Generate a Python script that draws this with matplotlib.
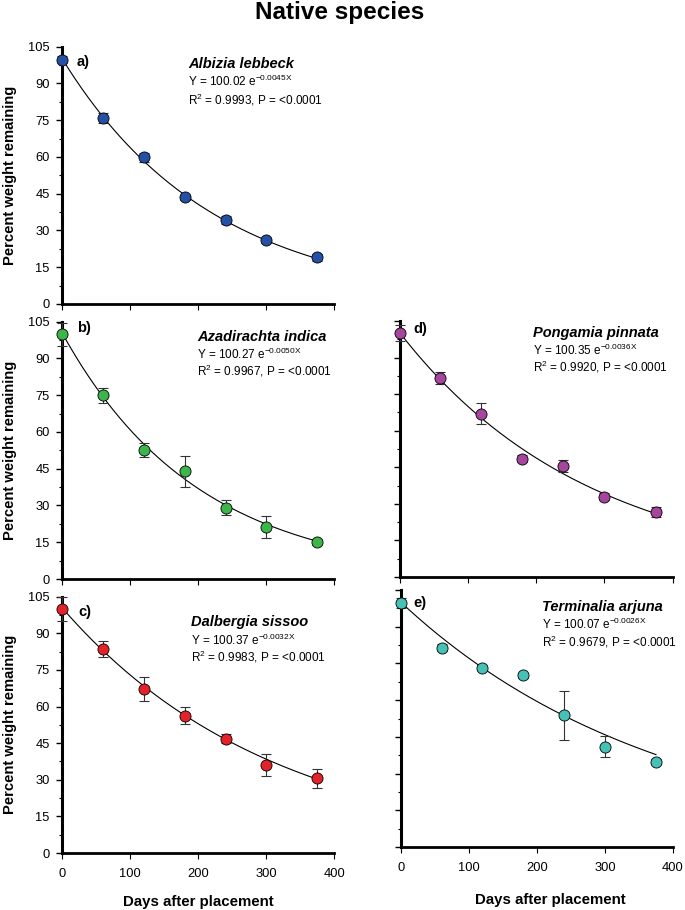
import numpy as np
import matplotlib
matplotlib.use("Agg")
import matplotlib.pyplot as plt
from matplotlib.ticker import MultipleLocator

plt.rcParams['font.family'] = ['Liberation Sans', 'DejaVu Sans']
plt.rcParams['mathtext.fontset'] = 'custom'
plt.rcParams['mathtext.rm'] = 'Liberation Sans'
plt.rcParams['mathtext.it'] = 'Liberation Sans:italic'
plt.rcParams['mathtext.bf'] = 'Liberation Sans:bold'

days = [0, 60, 120, 180, 240, 300, 375]

species = ["Albizia lebbeck", "Azadirachta indica", "Dalbergia sissoo",
           "Pongamia pinnata", "Terminalia arjuna"]
panel_letters = ["a)", "b)", "c)", "d)", "e)"]

vals_a = [99.7, 76.0, 59.8, 43.5, 34.3, 26.0, 19.0]
err_a = [1.5, 2.0, 2.0, 1.0, 1.5, 1.0, 1.3]
vals_b = [99.8, 74.9, 52.7, 43.9, 29.1, 21.2, 15.2]
err_b = [4.8, 3.0, 3.0, 6.3, 3.0, 4.5, 1.2]
vals_c = [100.0, 83.5, 67.1, 56.3, 46.9, 36.0, 30.6]
err_c = [4.8, 3.3, 5.0, 3.5, 1.9, 4.6, 4.0]
vals_d = [100.2, 81.5, 67.0, 48.5, 45.5, 33.0, 26.8]
err_d = [3.2, 2.5, 4.2, 1.4, 2.5, 1.5, 2.0]
vals_e = [99.8, 81.5, 73.3, 70.1, 53.9, 41.0, 34.8]
err_e = [2.0, 1.5, 1.0, 1.0, 10.0, 4.2, 1.0]

coef_a = [100.02, 100.27, 100.37, 100.35, 100.07]
coef_b = [-0.0045, -0.0050, -0.0032, -0.0036, -0.0026]
r2 = ["0.9993", "0.9967", "0.9983", "0.9920", "0.9679"]

colors = ["#2451a6", "#3cb54a", "#e3232a", "#a5459e", "#45c2b5"]

values = [vals_a, vals_b, vals_c, vals_d, vals_e]
errors = [err_a, err_b, err_c, err_d, err_e]

W, H = 685, 910
fig = plt.figure(figsize=(W / 100, H / 100), dpi=100)

def rect(x0, x1, yt, yb):
    return [x0 / W, 1 - yb / H, (x1 - x0) / W, (yb - yt) / H]

rects = [rect(62.3, 334.3, 46.7, 304),
         rect(62.3, 334.3, 321.7, 579),
         rect(62.3, 334.3, 596.7, 853),
         rect(399.5, 672.7, 321, 577),
         rect(400.7, 673, 590, 847)]

# text positions (axes fraction)
letter_pos = [(0.054, 0.94), (0.055, 0.975), (0.058, 0.939), (0.052, 0.967), (0.046, 0.948)]
name_pos = [(0.463, 0.933, 0.865, 0.794), (0.496, 0.94, 0.871, 0.807),
            (0.472, 0.90, 0.831, 0.766), (0.487, 0.952, 0.884, 0.819),
            (0.518, 0.933, 0.866, 0.799)]

left_panels = [0, 1, 2]
bottom_panels = [2, 4]

for i in range(5):
    ax = fig.add_axes(rects[i])
    ax.set_xlim(0, 400)
    ax.set_ylim(0, 105)
    for s in ['top', 'right']:
        ax.spines[s].set_visible(False)
    ax.spines['left'].set_linewidth(2.2)
    ax.spines['bottom'].set_linewidth(2.0)
    ax.yaxis.set_major_locator(MultipleLocator(15))
    ax.yaxis.set_minor_locator(MultipleLocator(7.5))
    ax.xaxis.set_major_locator(MultipleLocator(100))
    ax.tick_params(axis='y', which='major', direction='out', length=4, width=1.0, pad=5,
                   labelsize=9.3, labelleft=(i in left_panels))
    ax.tick_params(axis='y', which='minor', direction='out', length=2.5, width=0.8)
    ax.tick_params(axis='x', which='major', direction='out', length=4, width=0.8, pad=7,
                   labelsize=9.3, labelbottom=(i in bottom_panels))
    x = np.array(days, dtype=float)
    xs = np.linspace(0, max(days), 200)
    ax.plot(xs, coef_a[i] * np.exp(coef_b[i] * xs), color='black', lw=0.8, zorder=2)
    ax.errorbar(x, values[i], yerr=errors[i], fmt='none', ecolor='#333333',
                elinewidth=0.8, capsize=3.6, capthick=0.8, zorder=3, clip_on=False)
    ax.plot(x, values[i], 'o', ms=8, mfc=colors[i], mec='black', mew=0.6,
            zorder=4, clip_on=False)
    if i in left_panels:
        ax.set_ylabel("Percent weight remaining", fontsize=10.6, fontweight='bold', labelpad=8)
    lx, ly = letter_pos[i]
    ax.text(lx, ly, panel_letters[i], transform=ax.transAxes, fontsize=10.5,
            fontweight='bold', ha='left', va='center')
    nx, ny, ey, ry = name_pos[i]
    ax.text(nx, ny, species[i], transform=ax.transAxes, fontsize=10.5,
            fontweight='bold', style='italic', ha='left', va='center')
    ax.text(nx, ey, r"Y = %.2f e$^{\mathrm{%.4fX}}$" % (coef_a[i], coef_b[i]),
            transform=ax.transAxes, fontsize=8.5, ha='left', va='center')
    ax.text(nx, ry, "R$^{2}$ = %s, P = <0.0001" % r2[i],
            transform=ax.transAxes, fontsize=8.5, ha='left', va='center')

fig.text(340 / W, 1 - 13 / H, "Native species", fontsize=17.5, fontweight='bold',
         ha='center', va='center')
fig.text(198 / W, 1 - 902 / H, "Days after placement", fontsize=10.8, fontweight='bold',
         ha='center', va='center')
fig.text(550 / W, 1 - 900 / H, "Days after placement", fontsize=10.8, fontweight='bold',
         ha='center', va='center')

fig.savefig("out.png", dpi=100)
